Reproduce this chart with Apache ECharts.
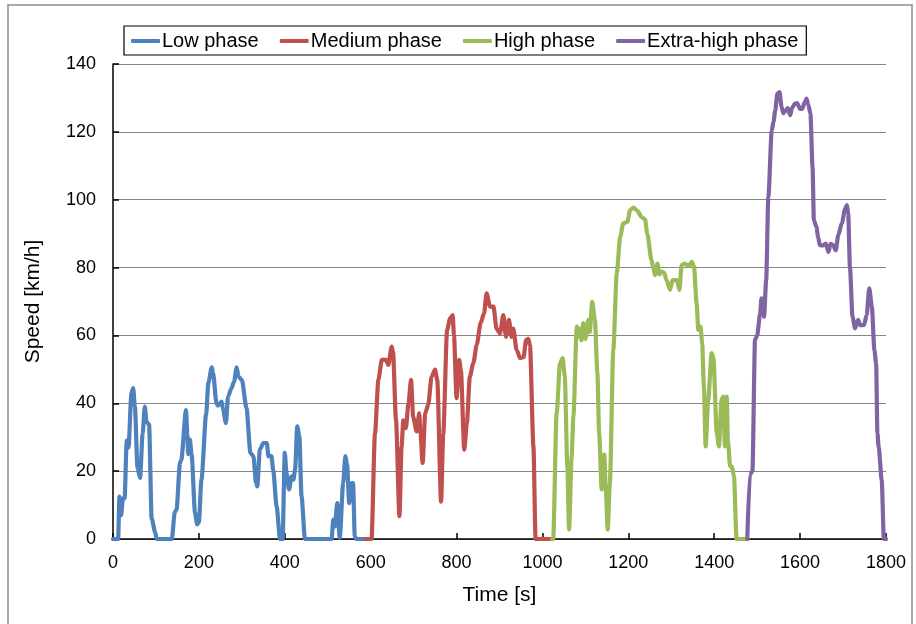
<!DOCTYPE html>
<html>
<head>
<meta charset="utf-8">
<script src="https://cdn.jsdelivr.net/npm/echarts@6/dist/echarts.min.js"></script>
<style>
html,body{margin:0;padding:0;background:#fff;}
#chart{width:916px;height:624px;}
</style>
</head>
<body>
<div id="chart"></div>
<script>
// Data (time [s], speed [km/h])
const lowT = [0,12,15,19,23,27,32,36,43,47,51,57,63,69,74,78,84,90,98,102,137,144,148,156,159,170,173,175,179,183,191,196,200,206,217,222,230,233,241,244,253,256,263,268,276,282,288,292,300,311,320,327,333,336,342,350,358,362,369,373,381,389,395,400,404,410,416,420,424,429,434,439,447,509,513,517,522,528,536,541,545,550,556,559,563,567,589];
const lowV = [0,0,12.5,7,12,12,29,27,43,44.5,39,21,18,31,39,34.6,33.7,6,2,0,0,8,8.7,22.4,23.3,38,31,25,29.3,25,7.7,4.3,5,17.5,37,46,50.6,49,40,39.3,40.5,38.4,34.2,42,44.5,46.4,50.6,47.9,46.9,38.5,25.4,24.4,16.5,15.5,26.3,28.3,28.3,24.4,24.4,20.4,9.6,0,0,25.4,19.4,14.6,18.5,17.5,20.4,33.2,30.2,12.6,0,0,5.7,3.7,10.6,0.4,16.5,24.4,22,10.6,16.5,16.5,0.8,0,0];

const medT = [589,602,610,618,626,636,641,649,652,659,667,672,676,682,688,694,699,707,713,716,721,727,734,742,750,755,764,769,778,785,791,794,800,806,810,818,824,831,839,847,856,864,870,878,886,893,901,909,915,922,928,932,940,948,956,962,967,971,979,984,1022];
const medV = [0,0,31,47,52.8,52.8,51.3,56.7,55.2,35,6.7,27.3,35,32.7,40,46.9,36,31.7,37,31,22.4,37,39.6,47.9,49.9,46.9,11,31,61.6,65,66,60,41.5,52.8,49.9,26.3,34.2,47.9,51.8,57.2,63.6,66.5,72.4,68.5,68.5,62,60.6,66,59.6,64.6,59.6,62,55.7,53.3,53.6,58.7,59,57,27.3,0,0];

const highT = [1022,1025,1033,1041,1047,1052,1058,1062,1068,1072,1080,1083,1087,1091,1095,1100,1107,1110,1116,1122,1128,1132,1138,1144,1147,1152,1157,1165,1173,1181,1188,1198,1204,1212,1221,1231,1239,1244,1254,1258,1262,1268,1272,1278,1283,1289,1297,1303,1313,1319,1324,1332,1340,1348,1353,1359,1363,1368,1372,1376,1380,1386,1394,1398,1406,1411,1417,1421,1425,1429,1432,1437,1441,1446,1452,1477];
const highV = [0,0,37,51.8,53.3,48,21.4,2.8,24.4,36,62.6,59.6,62,58.6,63.6,59,64.6,61,69.9,64.6,48.9,31.2,14.6,24.9,16,2.8,16.5,55.7,78.3,89,93,93.5,96.9,97.7,96.7,94.9,94.2,90,82.2,80,77.8,81.2,78,78.8,78.5,76.3,73.4,76.3,76.3,73.4,80.7,81.2,80.5,81.7,80.2,69.5,61.6,62.6,57.7,44.9,27.3,41,54.8,53.5,31.2,27.3,41,42,27.3,42,29,21.4,21.4,18.5,0,0];

const exHighT = [1477,1483,1489,1495,1500,1507,1510,1516,1521,1526,1534,1538,1542,1547,1552,1557,1561,1567,1571,1577,1581,1588,1593,1600,1605,1611,1615,1619,1624,1629,1632,1638,1642,1646,1653,1660,1666,1671,1677,1683,1689,1697,1705,1709,1712,1716,1722,1728,1735,1740,1749,1755,1761,1767,1773,1777,1780,1783,1790,1795,1800];
const exHighV = [0,19,20,58.7,60,66.5,70.9,65.5,76.3,100.8,120.4,123,126.3,131.2,131.7,127.3,125.5,126.3,127,124.9,127,128.3,128.5,126.8,126.8,128.8,129.8,128,125.4,109.6,94,92,89,86.6,86.5,87.1,84.6,87,86.6,85.1,89.6,93,97.4,98.4,96,80.2,65.5,62.1,64.6,63,63.1,66,73.9,68.5,55.7,51.8,31.2,27,17.5,0,0];

const seriesNames = ['Low phase','Medium phase','High phase','Extra-high phase'];
const seriesColors = ['#4F81BD','#C0504D','#9BBB59','#8064A2'];
const xTicks = {min:0, max:1800, interval:200};
const yTicks = {min:0, max:140, interval:20};

const zip = (t, v) => t.map((x, i) => [x, v[i]]);
const datasets = [zip(lowT, lowV), zip(medT, medV), zip(highT, highV), zip(exHighT, exHighV)];

const FONT = '"Liberation Sans", Arial, sans-serif';
const chart = echarts.init(document.getElementById('chart'), null, {renderer:'canvas'});
chart.setOption({
  backgroundColor: '#fff',
  animation: false,
  graphic: [{
    type: 'rect', silent: true, z: -10,
    shape: {x: 8, y: 5, width: 904, height: 640},
    style: {fill: 'none', stroke: '#8c8c8c', lineWidth: 1.5}
  }],
  legend: {
    left: 124, top: 26,
    data: seriesNames,
    icon: 'roundRect',
    borderColor: '#000', borderWidth: 1.2,
    padding: [5, 8, 4, 7],
    itemWidth: 29, itemHeight: 4, itemGap: 21,
    textStyle: {fontFamily: FONT, fontSize: 20, color: '#000', padding: [0,0,0,-3]}
  },
  grid: {left: 113, right: 30, top: 64, bottom: 85, containLabel: false},
  xAxis: {
    type: 'value', min: xTicks.min, max: xTicks.max, interval: xTicks.interval,
    name: 'Time [s]', nameLocation: 'middle', nameGap: 46,
    nameTextStyle: {fontFamily: FONT, fontSize: 21, color: '#000'},
    axisLine: {lineStyle: {color: '#000', width: 1.5}},
    axisTick: {inside: true, length: 6, lineStyle: {color: '#000', width: 1.5}},
    axisLabel: {fontFamily: FONT, fontSize: 18, color: '#000', margin: 15, formatter: v => String(v)},
    splitLine: {show: false}
  },
  yAxis: {
    type: 'value', min: yTicks.min, max: yTicks.max, interval: yTicks.interval,
    name: 'Speed [km/h]', nameLocation: 'middle', nameGap: 69, nameRotate: 90,
    nameTextStyle: {fontFamily: FONT, fontSize: 21, color: '#000'},
    axisLine: {show: true, lineStyle: {color: '#000', width: 1.5}},
    axisTick: {show: true, inside: true, length: 6, lineStyle: {color: '#000', width: 1.5}},
    axisLabel: {fontFamily: FONT, fontSize: 18, color: '#000', margin: 17, formatter: v => String(v)},
    splitLine: {show: true, lineStyle: {color: '#868686', width: 1.2}}
  },
  series: seriesNames.map((n, i) => ({
    name: n, type: 'line', data: datasets[i],
    symbol: 'none', smooth: 0.25, smoothMonotone: 'x',
    color: seriesColors[i],
    itemStyle: {color: seriesColors[i]},
    lineStyle: {width: 4.2, color: seriesColors[i], cap: 'round', join: 'round'},
    z: 3 + i
  }))
});
</script>
</body>
</html>
